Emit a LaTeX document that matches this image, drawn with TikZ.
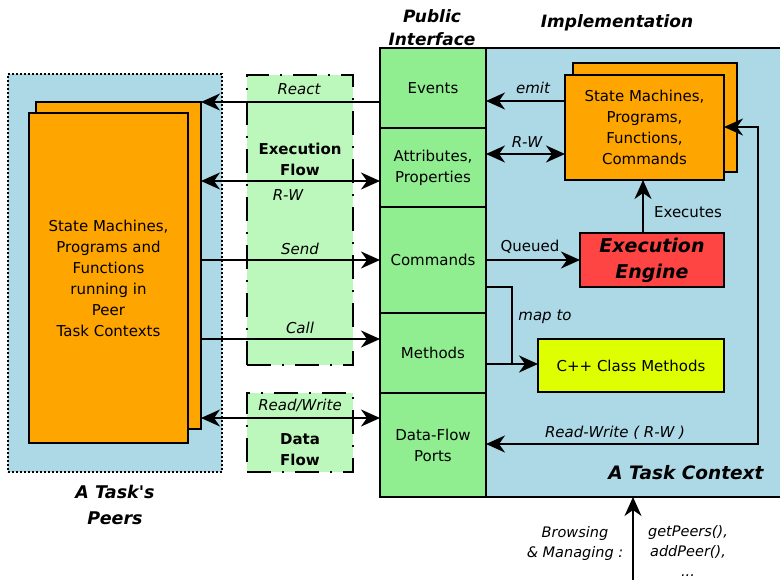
\documentclass[tikz,border=0pt]{standalone}
\usepackage{fontspec}
\setmainfont{DejaVu Sans}[Ligatures=TeXOff]
\usetikzlibrary{arrows.meta}
\definecolor{peerblue}{HTML}{ADD8E6}
\definecolor{orangebox}{HTML}{FFA500}
\definecolor{cellgreen}{HTML}{90EE90}
\definecolor{flowgreen}{HTML}{BCF8BC}
\definecolor{enginered}{HTML}{FF4444}
\definecolor{cppyellow}{HTML}{DDFF00}
\tikzset{
  box/.style={draw=black, line width=1.8pt, inner sep=0pt, outer sep=0pt, align=center,
    font=\fontsize{15}{21}\selectfont},
  cell/.style={box, fill=cellgreen},
  orangeb/.style={box, fill=orangebox},
  flowbox/.style={draw=black, line width=1.8pt, fill=flowgreen, inner sep=0pt, outer sep=0pt,
    dash pattern=on 24pt off 11pt on 2pt off 11pt},
  tip/.tip={Stealth[length=19pt,width=17pt,inset=6pt]},
  arr/.style={line width=1.8pt, -tip},
  darr/.style={line width=1.8pt, tip-tip},
  plainline/.style={line width=1.8pt},
  lbl/.style={inner sep=0pt, font=\fontsize{15}{20}\selectfont\itshape, align=center},
  rlbl/.style={inner sep=0pt, font=\fontsize{15}{20}\selectfont, align=center},
  boldlbl/.style={inner sep=0pt, font=\fontsize{15}{21}\selectfont\bfseries, align=center},
  head/.style={inner sep=0pt, font=\fontsize{17}{24}\selectfont\bfseries\itshape, align=center},
}
\begin{document}
\begin{tikzpicture}[x=1pt,y=-1pt]
\useasboundingbox (0,0) rectangle (780,579);
\clip (0,0) rectangle (780,579);

% peers area
\node[draw=black, fill=peerblue, line width=2pt, dash pattern=on 1.8pt off 2.2pt,
  minimum width=214pt, minimum height=398pt, inner sep=0pt, outer sep=0pt] (peers) at (115,273) {};
\node[orangeb, minimum width=165pt, minimum height=327pt] (pback) at (118.5,265.5) {};
\node[orangeb, minimum width=159pt, minimum height=330pt] (pfront) at (108.5,278)
  {State Machines,\\Programs and\\Functions\\running in\\Peer\\Task Contexts};
\node[head, font=\fontsize{17.5}{26}\selectfont\bfseries\itshape] (peerslbl) at (115,505) {A Task's\\Peers};

% flow boxes
\node[flowbox, minimum width=106pt, minimum height=290pt] (eflow) at (300,220) {};
\node[boldlbl] (eflowtxt) at (300,159) {Execution\\Flow};
\node[flowbox, minimum width=106pt, minimum height=79pt] (dflow) at (300,432.5) {};
\node[boldlbl] (dflowtxt) at (300,449.5) {Data\\Flow};

% implementation area
\node[draw=black, fill=peerblue, line width=1.8pt, minimum width=304pt, minimum height=449pt,
  inner sep=0pt, outer sep=0pt] (impl) at (638,272.5) {};

% public interface cells
\node[cell, minimum width=106pt, minimum height=80pt] (events) at (433,88) {Events};
\node[cell, minimum width=106pt, minimum height=79pt] (attr) at (433,167.5) {Attributes,\\Properties};
\node[cell, minimum width=106pt, minimum height=106pt] (cmd) at (433,260) {Commands};
\node[cell, minimum width=106pt, minimum height=80pt] (methods) at (433,353) {Methods};
\node[cell, minimum width=106pt, minimum height=104pt] (dfp) at (433,445) {Data-Flow\\Ports};

% headings
\node[head, font=\fontsize{17}{23}\selectfont\bfseries\itshape] (pubif) at (432,28) {Public\\Interface};
\node[head] (implh) at (617,23) {Implementation};
\node[head, font=\fontsize{18.5}{24}\selectfont\bfseries\itshape] (taskctx) at (686,473) {A Task Context};

% implementation boxes
\node[orangeb, minimum width=164pt, minimum height=109pt] (rback) at (655,117.5) {};
\node[orangeb, minimum width=159pt, minimum height=105pt] (rfront) at (644.5,127.5)
  {State Machines,\\Programs,\\Functions,\\Commands};
\node[box, fill=enginered, minimum width=144pt, minimum height=54pt,
  font=\fontsize{19}{26}\selectfont\bfseries\itshape] (engine) at (652,260) {Execution\\Engine};
\node[box, fill=cppyellow, minimum width=186pt, minimum height=53pt] (cpp) at (631,365.5) {C++ Class Methods};

% left connectors
\draw[arr] (events.west |- 0,102) -- (pback.east |- 0,102);
\node[lbl] (reactl) at (299,89) {React};
\draw[darr] (pback.east |- 0,181) -- (attr.west |- 0,181);
\node[lbl] (rwl) at (288,195) {R-W};
\draw[arr] (pback.east |- 0,260) -- (cmd.west |- 0,260);
\node[lbl] (sendl) at (300,249) {Send};
\draw[arr] (pback.east |- 0,339) -- (methods.west |- 0,339);
\node[lbl] (calll) at (300,328) {Call};
\draw[darr] (pback.east |- 0,418) -- (dfp.west |- 0,418);
\node[lbl] (rwdl) at (300,405) {Read/Write};

% right connectors
\draw[arr] (rfront.west |- 0,101) -- (events.east |- 0,101);
\node[lbl] (emitl) at (533,88) {emit};
\draw[darr] (attr.east |- 0,154) -- (rfront.west |- 0,154);
\node[lbl] (rwr) at (527,142) {R-W};
\draw[arr] (engine.north -| 643,0) -- (rfront.south -| 643,0);
\node[rlbl] (execl) at (688,212) {Executes};
\draw[arr] (cmd.east |- engine.west) -- (engine.west);
\node[rlbl] (queuedl) at (530,247) {Queued};
\coordinate (mapj) at (512,364);
\draw[plainline] (cmd.east |- 0,287) -| (mapj);
\draw[arr] (methods.east |- 0,364) -- (cpp.west |- 0,364);
\node[lbl] (mapl) at (545,317) {map to};
\coordinate (loopc) at (758,127);
\draw[darr] (dfp.east |- 0,444) -| (loopc) -- (rfront.east |- loopc);
\node[lbl] (rwloopl) at (615,433) {Read-Write ( R-W )};

% bottom
\coordinate (bottomc) at (633,582);
\draw[arr] (bottomc) -- (impl.south -| bottomc);
\node[lbl, font=\fontsize{14.5}{20}\selectfont\itshape] (browsel) at (575,543) {Browsing\\\& Managing :};
\node[lbl, font=\fontsize{14.5}{20}\selectfont\itshape] (peersfn) at (688,551) {getPeers(),\\addPeer(),\\...};
\end{tikzpicture}
\end{document}
